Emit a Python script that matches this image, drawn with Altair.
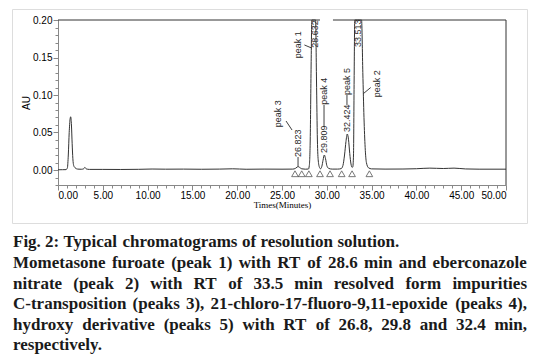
import altair as alt
import pandas as pd

# ---------------- data ----------------
time_min = [0.0, 0.5, 0.9, 1.05, 1.15, 1.25, 1.35, 1.42, 1.5, 1.58, 1.66, 1.75, 1.9, 2.2, 2.6,
            2.85, 3.0, 3.15, 3.5, 5.0, 7.0, 9.0, 10.5, 12.0, 14.0, 16.0, 18.0, 19.5, 21.0, 23.0,
            25.0, 26.2, 26.5, 26.68, 26.8, 26.95, 27.2, 27.6, 27.95, 28.05, 28.15, 28.25, 28.33,
            28.45, 28.55, 28.65, 28.75, 28.85, 28.95, 29.05, 29.2, 29.3, 29.45, 29.58, 29.72,
            29.86, 30.0, 30.2, 30.6, 31.2, 31.6, 31.8, 31.98, 32.14, 32.28, 32.42, 32.56, 32.7,
            32.82, 32.9, 32.98, 33.05, 33.12, 33.25, 33.45, 33.62, 33.75, 33.88, 34.02, 34.15,
            34.28, 34.42, 34.65, 35.0, 36.5, 38.5, 40.0, 41.5, 43.0, 44.2, 45.5, 47.0, 50.0]
absorb_au = [0.0003, 0.0004, 0.0005, 0.003, 0.02, 0.05, 0.068, 0.071, 0.06, 0.035, 0.015, 0.006,
             0.003, 0.0012, 0.001, 0.0015, 0.0035, 0.0015, 0.0008, 0.0008, 0.0007, 0.0009, 0.0013,
             0.0011, 0.0012, 0.001, 0.0012, 0.0016, 0.001, 0.0012, 0.0011, 0.0012, 0.0022, 0.0038,
             0.0045, 0.0036, 0.0016, 0.0011, 0.0013, 0.006, 0.04, 0.14, 0.24, 0.33, 0.34, 0.3,
             0.22, 0.12, 0.04, 0.012, 0.003, 0.0016, 0.005, 0.013, 0.02, 0.015, 0.006, 0.0022,
             0.0012, 0.0012, 0.0018, 0.006, 0.02, 0.038, 0.048, 0.041, 0.022, 0.008, 0.0035,
             0.004, 0.02, 0.12, 0.25, 0.34, 0.36, 0.32, 0.26, 0.2, 0.13, 0.07, 0.03, 0.01, 0.003,
             0.0015, 0.0012, 0.0013, 0.0017, 0.0025, 0.002, 0.0025, 0.0014, 0.0011, 0.0011]

# baseline start/end markers (hollow triangles)
marker_min = [26.45, 27.2, 28.0, 29.24, 30.36, 31.66, 32.82, 34.75]
marker_au = [-0.005] * len(marker_min)

# retention-time labels
rt_text = ["26.823", "28.632", "29.809", "32.424", "33.513"]
rt_x = [26.79, 28.66, 29.69, 32.25, 33.48]
rt_y = [0.0173, 0.163, 0.0227, 0.0507, 0.164]

# peak name labels
name_text = ["peak 3", "peak 1", "peak 4", "peak 5", "peak 2"]
name_x = [24.55, 26.79, 29.69, 32.25, 35.6]
name_y = [0.057, 0.149, 0.087, 0.1, 0.097]

# leader lines (x, y) -> (x2, y2)
lead_x = [26.79, 25.45, 27.5, 29.69, 32.25, 34.1]
lead_y = [0.0045, 0.0653, 0.1667, 0.0573, 0.0867, 0.102]
lead_x2 = [26.79, 26.12, 28.3, 29.69, 32.25, 34.9]
lead_y2 = [0.0173, 0.0533, 0.1627, 0.0867, 0.1, 0.11]

# inner plot box: top border (with its small break) and right border
box_x = [0.0, 30.69, 50.0]
box_x2 = [29.24, 50.0, 50.0]
box_y = [0.2, 0.2, -0.02]
box_y2 = [0.2, 0.2, 0.2]

x_major = [0, 5, 10, 15, 20, 25, 30, 35, 40, 45, 50]
x_minor = list(range(0, 51))
y_major = [0.0, 0.05, 0.10, 0.15, 0.20]
y_minor = [round(-0.02 + 0.01 * i, 2) for i in range(23)]

caption_lines = [
    "Fig. 2: Typical chromatograms of resolution solution.",
    "Mometasone furoate (peak 1) with RT of 28.6 min and eberconazole",
    "nitrate (peak 2) with RT of 33.5 min resolved form impurities",
    "C-transposition (peaks 3), 21-chloro-17-fluoro-9,11-epoxide (peaks 4),",
    "hydroxy derivative (peaks 5) with RT of 26.8, 29.8 and 32.4 min,",
    "respectively.",
]
caption_justify = [False, True, True, True, True, False]
caption_baseline = [238, 259, 279.6, 300.2, 320.8, 341]

# ---------------- layout: the view is the outer figure frame ----------------
FW, FH = 515, 214                 # outer frame (view) size in px
XR = [46, 494]                    # pixel range of the time axis inside the frame
YR = [176, 11]                    # pixel range of the AU axis inside the frame

# ---------------- caption layout (Times-Bold metrics) ----------------
W = {" ": 250, "(": 333, ")": 333, ",": 250, "-": 333, ".": 250, ":": 333}
for d in "0123456789":
    W[d] = 500
W.update(dict(zip("ABCDEFGHIJKLMNOPQRSTUVWXYZ",
                  [722, 667, 722, 722, 667, 611, 778, 778, 389, 500, 778, 667, 944, 722, 778,
                   611, 778, 722, 556, 667, 722, 722, 1000, 722, 722, 667])))
W.update(dict(zip("abcdefghijklmnopqrstuvwxyz",
                  [500, 556, 444, 556, 444, 333, 500, 556, 278, 333, 556, 278, 833, 556, 500,
                   556, 556, 444, 389, 333, 556, 500, 722, 500, 500, 444])))
FS = 17
LEFT, RIGHT = 1, 515


def wlen(s):
    return sum(W.get(c, 500) for c in s) / 1000 * FS


rows = []
for line, just, base in zip(caption_lines, caption_justify, caption_baseline):
    words = line.split(" ")
    widths = [wlen(w) for w in words]
    if just and len(words) > 1:
        gap = (RIGHT - LEFT - sum(widths)) / (len(words) - 1)
    else:
        gap = wlen(" ")
    x = LEFT
    for w, wd in zip(words, widths):
        rows.append({"px": x, "py": base, "word": w})
        x += wd + gap
caption_df = pd.DataFrame(rows)

# ---------------- chart ----------------
trace = pd.DataFrame({"t": time_min, "au": absorb_au})
marks = pd.DataFrame({"t": marker_min, "au": marker_au})
rts = pd.DataFrame({"t": rt_x, "au": rt_y, "label": rt_text})
names = pd.DataFrame({"t": name_x, "au": name_y, "label": name_text})
leads = pd.DataFrame({"t": lead_x, "au": lead_y, "t2": lead_x2, "au2": lead_y2})
boxd = pd.DataFrame({"t": box_x, "au": box_y, "t2": box_x2, "au2": box_y2})

xs = alt.Scale(domain=[0, 50], range=XR, nice=False, zero=False, clamp=True)
ys = alt.Scale(domain=[-0.02, 0.2], range=YR, nice=False, zero=False, clamp=True)
INK = "#2a2a2a"
XOFF = -(FH - YR[0])
YOFF = -XR[0]

line = alt.Chart(trace).mark_line(color="#333333", strokeWidth=1,
                                  interpolate="monotone").encode(
    x=alt.X("t:Q", scale=xs,
            axis=alt.Axis(values=x_major, format=".2f", tickSize=5, title="Times(Minutes)",
                          titleFont="Liberation Serif", titleFontSize=9, titleFontWeight="normal",
                          titlePadding=0, labelPadding=0, grid=False, orient="bottom",
                          offset=XOFF)),
    y=alt.Y("au:Q", scale=ys,
            axis=alt.Axis(values=y_major, format=".2f", tickSize=5, title="AU",
                          titleFont="Liberation Sans", titleFontSize=10, titleFontWeight="normal",
                          titlePadding=1, labelPadding=1, grid=False, orient="left",
                          offset=YOFF)),
)

minor = alt.Chart(trace).mark_point(opacity=0).encode(
    x=alt.X("t:Q", scale=xs,
            axis=alt.Axis(values=x_minor, labels=False, domain=False, tickSize=3, title=None,
                          grid=False, orient="bottom", offset=XOFF)),
    y=alt.Y("au:Q", scale=ys,
            axis=alt.Axis(values=y_minor, labels=False, domain=False, tickSize=3, title=None,
                          grid=False, orient="left", offset=YOFF)),
)

tri = alt.Chart(marks).mark_point(shape="triangle-up", filled=False, size=45, color=INK,
                                  strokeWidth=0.9).encode(
    x=alt.X("t:Q", scale=xs, axis=None), y=alt.Y("au:Q", scale=ys, axis=None))

rules = alt.Chart(leads).mark_rule(color=INK, strokeWidth=0.9).encode(
    x=alt.X("t:Q", scale=xs, axis=None), y=alt.Y("au:Q", scale=ys, axis=None),
    x2="t2:Q", y2="au2:Q")

plotbox = alt.Chart(boxd).mark_rule(color="#333333", strokeWidth=1).encode(
    x=alt.X("t:Q", scale=xs, axis=None), y=alt.Y("au:Q", scale=ys, axis=None),
    x2="t2:Q", y2="au2:Q")

rt_lab = alt.Chart(rts).mark_text(angle=270, align="left", baseline="middle",
                                  font="Liberation Sans", fontSize=9, color=INK).encode(
    x=alt.X("t:Q", scale=xs, axis=None), y=alt.Y("au:Q", scale=ys, axis=None), text="label:N")

nm_lab = alt.Chart(names).mark_text(angle=270, align="left", baseline="middle",
                                    font="Liberation Sans", fontSize=9, color=INK).encode(
    x=alt.X("t:Q", scale=xs, axis=None), y=alt.Y("au:Q", scale=ys, axis=None), text="label:N")

inner = alt.layer(line, minor, tri, rules, plotbox, rt_lab, nm_lab).resolve_axis(
    x="independent", y="independent")

caption = alt.Chart(caption_df).mark_text(align="left", baseline="alphabetic",
                                          font="Liberation Serif", fontWeight="bold",
                                          fontSize=FS, color="#1a1a1a").encode(
    x=alt.X("px:Q", scale=None, axis=None),
    y=alt.Y("py:Q", scale=None, axis=None),
    text="word:N")

chart = alt.layer(inner, caption).resolve_scale(
    x="independent", y="independent").properties(
    width=FW, height=FH,
    autosize=alt.AutoSizeParams(type="none"),
    padding={"left": 4, "top": 1, "right": 4, "bottom": 133},
).configure_view(stroke="#222222", strokeWidth=1.5).configure_axis(
    labelFont="Liberation Sans", labelFontSize=10, labelColor="#222222",
    tickColor="#333333", domainColor="#333333", titleColor="#222222",
).configure(background="white")

chart.save("out.html", embed_options={"renderer": "svg", "actions": False})
